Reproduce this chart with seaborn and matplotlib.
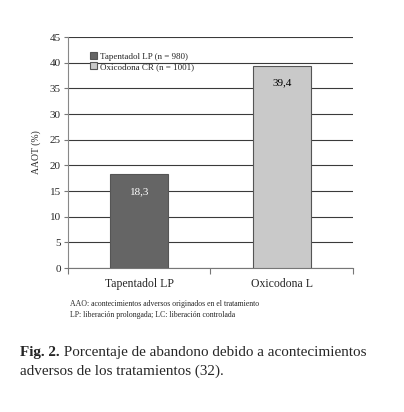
import matplotlib
matplotlib.use('Agg')
import matplotlib.pyplot as plt
import seaborn as sns
import pandas as pd
from matplotlib.ticker import FixedLocator

# datos
tratamientos = ['Tapentadol LP', 'Oxicodona L']
leyenda = ['Tapentadol LP (n = 980)', 'Oxicodona CR (n = 1001)']
abandono = [18.3, 39.4]
etiquetas = ['18,3', '39,4']
colores = ['#656565', '#c9c9c9']

sns.set_style('white')
plt.rcParams['font.family'] = ['Liberation Serif', 'DejaVu Serif']

df = pd.DataFrame({'trat': tratamientos, 'aaot': abandono, 'grupo': leyenda})

fig = plt.figure(figsize=(4.04, 4.12), dpi=100)
ax = fig.add_axes([0.168, 0.3495, 0.706, 0.5605])

sns.barplot(data=df, x='trat', y='aaot', hue='grupo', palette=colores,
            dodge=False, width=0.41, edgecolor='#555555', linewidth=0.8,
            ax=ax, zorder=3)

ax.set_ylim(0, 45)
ax.set_xlim(-0.5, 1.5)
ax.set_yticks(range(0, 46, 5))
ax.tick_params(axis='y', labelsize=8, length=3, width=0.8, color='#777777', pad=2, left=True)
ax.tick_params(axis='x', which='major', labelsize=8.5, length=0, pad=7)
ax.xaxis.set_minor_locator(FixedLocator([-0.5, 0.5, 1.5]))
ax.tick_params(axis='x', which='minor', length=4, width=0.8, color='#777777', bottom=True)
ax.yaxis.grid(True, color='#3a3a3a', linewidth=0.8, zorder=0)
ax.set_axisbelow(True)
for s in ['top', 'right']:
    ax.spines[s].set_visible(False)
ax.spines['left'].set_color('#888888')
ax.spines['bottom'].set_color('#777777')
ax.set_xlabel('')
ax.set_ylabel('AAOT (%)', fontsize=7, labelpad=6)

for i, (v, t) in enumerate(zip(abandono, etiquetas)):
    ax.text(i, v - 3.4, t, ha='center', va='center', fontsize=8,
            color='white' if i == 0 else 'black', zorder=4)

leg = ax.legend(loc='upper left', bbox_to_anchor=(0.065, 0.95), frameon=False,
                fontsize=6.5, handlelength=0.8, handleheight=0.8,
                handletextpad=0.3, labelspacing=0.15, borderaxespad=0)

fig.text(0.173, 0.262, 'AAO: acontecimientos adversos originados en el tratamiento',
         fontsize=5.6, va='center')
fig.text(0.173, 0.235, 'LP: liberación prolongada; LC: liberación controlada',
         fontsize=5.6, va='center')

# pie de figura
fig_lbl = fig.text(0.05, 0.135, 'Fig. 2.', fontsize=10.9, fontweight='bold', va='baseline')
ax.annotate(' Porcentaje de abandono debido a acontecimientos',
            xy=(1, 0), xycoords=fig_lbl, fontsize=10.9, va='bottom', ha='left')
fig.text(0.05, 0.091, 'adversos de los tratamientos (32).', fontsize=10.9, va='baseline')

fig.savefig('out.png', dpi=100)
